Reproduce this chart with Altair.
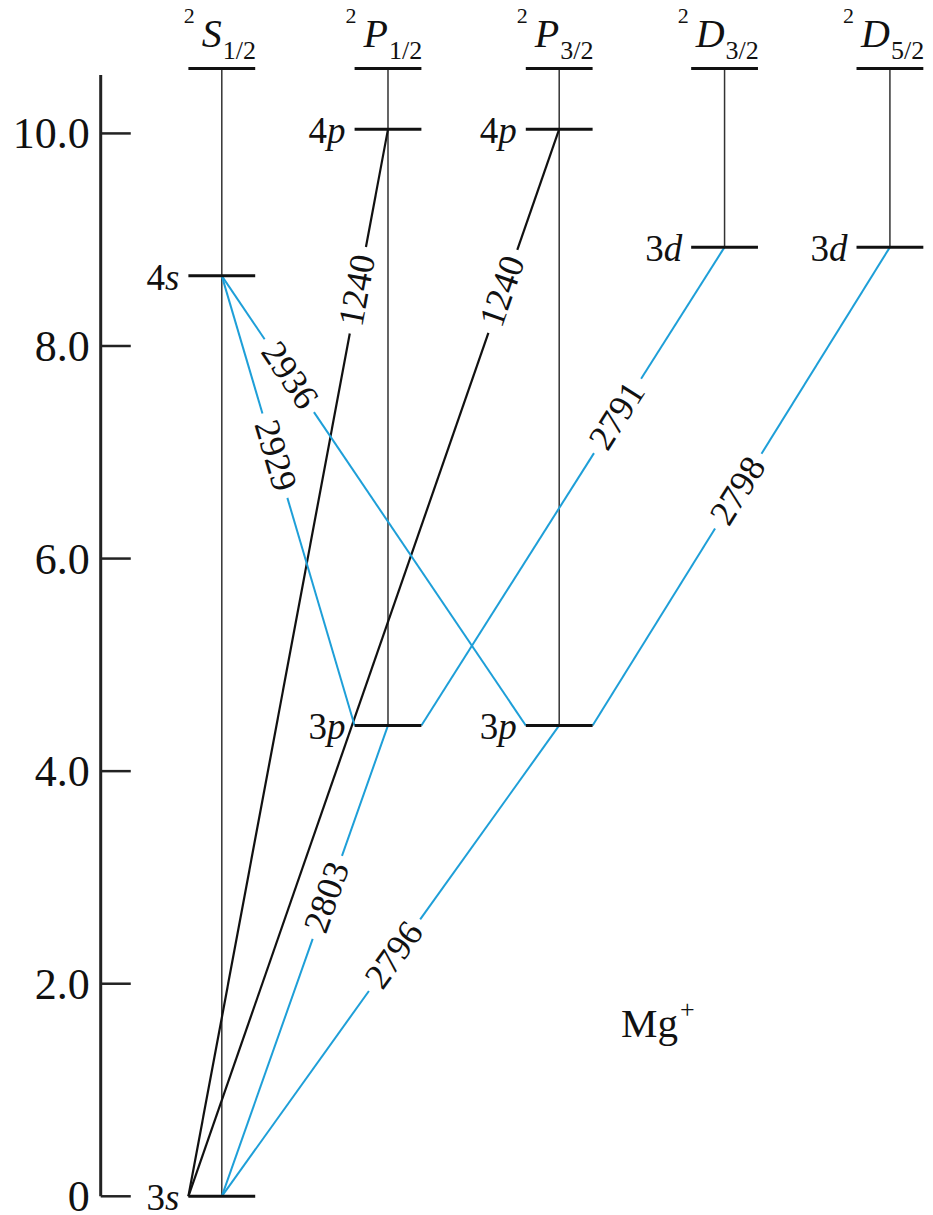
import math
import altair as alt
import pandas as pd

# ---------------- data ----------------
term_letter = ["S", "P", "P", "D", "D"]
term_j = ["1/2", "1/2", "3/2", "3/2", "5/2"]
term_pos = [0.0, 0.995, 2.02, 3.01, 4.0]
series_limit = 10.61

level_n = ["3", "4", "3", "4", "3", "4", "3", "3"]
level_l = ["s", "s", "p", "p", "p", "p", "d", "d"]
level_term = [0, 0, 1, 1, 2, 2, 3, 4]
level_energy = [0.0, 8.66, 4.43, 10.04, 4.43, 10.04, 8.93, 8.93]

line_wavelength = ["1240", "1240", "2803", "2796", "2929", "2936", "2791", "2798"]
line_lower = [0, 0, 0, 0, 2, 4, 2, 4]
line_upper = [3, 5, 2, 4, 1, 1, 6, 7]
line_lower_end = [-1, -1, 0, 0, -1, -1, 1, 1]  # -1 left end of bar, 0 centre, 1 right end
line_upper_end = [0, 0, 0, 0, 0, 0, 0, 0]
line_kind = ["black", "black", "blue", "blue", "blue", "blue", "blue", "blue"]
line_label_at = [0.849, 0.848, 0.635, 0.512, 0.60, 0.778, 0.647, 0.49]

axis_ticks = [0, 2, 4, 6, 8, 10]
axis_labels = ["0", "2.0", "4.0", "6.0", "8.0", "10.0"]
axis_top = 10.55

ion_name = "Mg"
ion_charge = "+"
ion_label_x = 2.39
ion_label_y = 1.61

# ---------------- layout ----------------
W, H = 917, 1207
XDOM = [-1.28, 4.21]
YDOM = [-0.176, 11.18]
SX = W / (XDOM[1] - XDOM[0])
SY = H / (YDOM[1] - YDOM[0])
HALF = 0.2
AXIS_X = -0.725
TICK_LEN = 0.18
GAP = 88.0
BLUE = "#1e9fd8"
FONT = "Liberation Serif"
INK = "#111111"
COLORS = {"black": INK, "blue": BLUE}
WIDTHS = {"black": 2.2, "blue": 2.0}

xs = alt.Scale(domain=XDOM, nice=False, zero=False)
ys = alt.Scale(domain=YDOM, nice=False, zero=False)


def X(f):
    return alt.X(f, type="quantitative", scale=xs, axis=None)


def Y(f):
    return alt.Y(f, type="quantitative", scale=ys, axis=None)


# column verticals
low = {}
for t, e in zip(level_term, level_energy):
    low[t] = min(low.get(t, 99), e)
cols = pd.DataFrame({"x": term_pos, "y": [low[i] for i in range(len(term_pos))],
                     "y2": [series_limit] * len(term_pos)})
verticals = alt.Chart(cols).mark_rule(color="#333333", strokeWidth=1.5).encode(
    x=X("x"), y=Y("y"), y2=alt.Y2("y2"))

# level bars (incl. series limit)
bx = [term_pos[t] for t in level_term] + term_pos
be = level_energy + [series_limit] * len(term_pos)
bars_df = pd.DataFrame({"x": [v - HALF for v in bx], "x2": [v + HALF for v in bx], "y": be})
bars = alt.Chart(bars_df).mark_rule(color=INK, strokeWidth=3).encode(
    x=X("x"), x2=alt.X2("x2"), y=Y("y"))

# transitions
segs = []
labs = []
for i in range(len(line_wavelength)):
    lo, up = line_lower[i], line_upper[i]
    x0 = term_pos[level_term[lo]] + line_lower_end[i] * HALF
    y0 = level_energy[lo]
    x1 = term_pos[level_term[up]] + line_upper_end[i] * HALF
    y1 = level_energy[up]
    dxs = (x1 - x0) * SX
    dys = -(y1 - y0) * SY
    L = math.hypot(dxs, dys)
    g = GAP / 2 / L
    t = line_label_at[i]
    c = COLORS[line_kind[i]]
    w = WIDTHS[line_kind[i]]
    for a, b in [(0.0, t - g), (t + g, 1.0)]:
        segs.append({"x": x0 + (x1 - x0) * a, "y": y0 + (y1 - y0) * a,
                     "x2": x0 + (x1 - x0) * b, "y2": y0 + (y1 - y0) * b, "c": c, "w": w})
    if dxs < 0:
        dxs, dys = -dxs, -dys
    ang = math.degrees(math.atan2(dys, dxs)) % 360
    labs.append({"x": x0 + (x1 - x0) * t, "y": y0 + (y1 - y0) * t,
                 "text": line_wavelength[i], "angle": ang})

lines = alt.Chart(pd.DataFrame(segs)).mark_rule().encode(
    x=X("x"), y=Y("y"), x2=alt.X2("x2"), y2=alt.Y2("y2"),
    color=alt.Color("c:N", scale=None),
    strokeWidth=alt.StrokeWidth("w:Q", scale=None))
line_text = alt.Chart(pd.DataFrame(labs)).mark_text(
    font=FONT, fontSize=36, color=INK, align="center", baseline="middle").encode(
    x=X("x"), y=Y("y"), text="text:N", angle=alt.Angle("angle:Q", scale=None))

# level labels
LFS = 37
lw = {"s": 0.389, "p": 0.5, "d": 0.5}
lv = pd.DataFrame({
    "xl": [term_pos[t] - HALF - 9 / SX for t in level_term],
    "xn": [term_pos[t] - HALF - 9 / SX - lw[l] * LFS / SX for t, l in zip(level_term, level_l)],
    "y": level_energy, "n": level_n, "l": level_l})
lv_l = alt.Chart(lv).mark_text(font=FONT, fontSize=LFS, fontStyle="italic", align="right",
                               baseline="middle", dy=3, color=INK).encode(
    x=X("xl"), y=Y("y"), text="l:N")
lv_n = alt.Chart(lv).mark_text(font=FONT, fontSize=LFS, align="right",
                               baseline="middle", dy=3, color=INK).encode(
    x=X("xn"), y=Y("y"), text="n:N")

# headers
HFS = 40
hw = {"S": 0.5, "P": 0.611, "D": 0.722}
HY = 10.81
hd = pd.DataFrame({
    "x": term_pos,
    "xs": [p + 1 / SX for p in term_pos],
    "xp": [p - hw[L] * HFS / SX - 7 / SX for p, L in zip(term_pos, term_letter)],
    "y": [HY] * len(term_pos), "L": term_letter, "j": term_j, "m": ["2"] * len(term_pos)})
h_letter = alt.Chart(hd).mark_text(font=FONT, fontSize=HFS, fontStyle="italic", align="right",
                                   baseline="alphabetic", color=INK).encode(
    x=X("x"), y=Y("y"), text="L:N")
h_sub = alt.Chart(hd).mark_text(font=FONT, fontSize=26, align="left",
                                baseline="alphabetic", dy=12, color=INK).encode(
    x=X("xs"), y=Y("y"), text="j:N")
h_sup = alt.Chart(hd).mark_text(font=FONT, fontSize=22, align="right",
                                baseline="alphabetic", dy=-24, color=INK).encode(
    x=X("xp"), y=Y("y"), text="m:N")

# energy axis
ax_line = alt.Chart(pd.DataFrame({"x": [AXIS_X], "y": [0.0], "y2": [axis_top]})).mark_rule(
    color="#222222", strokeWidth=3).encode(x=X("x"), y=Y("y"), y2=alt.Y2("y2"))
tk = pd.DataFrame({"x": [AXIS_X] * len(axis_ticks), "x2": [AXIS_X + TICK_LEN] * len(axis_ticks),
                   "y": axis_ticks, "t": axis_labels})
ax_ticks = alt.Chart(tk).mark_rule(color="#222222", strokeWidth=2.5).encode(
    x=X("x"), x2=alt.X2("x2"), y=Y("y"))
ax_text = alt.Chart(tk).mark_text(font=FONT, fontSize=44, align="right", baseline="middle",
                                  dx=-11, dy=2, color=INK).encode(
    x=X("x"), y=Y("y"), text="t:N")

# ion label
ion = pd.DataFrame({"x": [ion_label_x], "y": [ion_label_y], "t": [ion_name], "c": [ion_charge]})
ion_t = alt.Chart(ion).mark_text(font=FONT, fontSize=41, align="left", baseline="middle",
                                 color=INK).encode(x=X("x"), y=Y("y"), text="t:N")
ion_c = alt.Chart(ion).mark_text(font=FONT, fontSize=26, align="left", baseline="middle",
                                 dx=59, dy=-15, color=INK).encode(x=X("x"), y=Y("y"), text="c:N")

chart = alt.layer(
    verticals, lines, bars, line_text, lv_l, lv_n, h_letter, h_sub, h_sup,
    ax_line, ax_ticks, ax_text, ion_t, ion_c
).properties(
    width=W, height=H, padding=0,
    autosize=alt.AutoSizeParams(type="none")
).configure_view(stroke=None)

chart.save("out.html", embed_options={"renderer": "svg", "actions": False})
